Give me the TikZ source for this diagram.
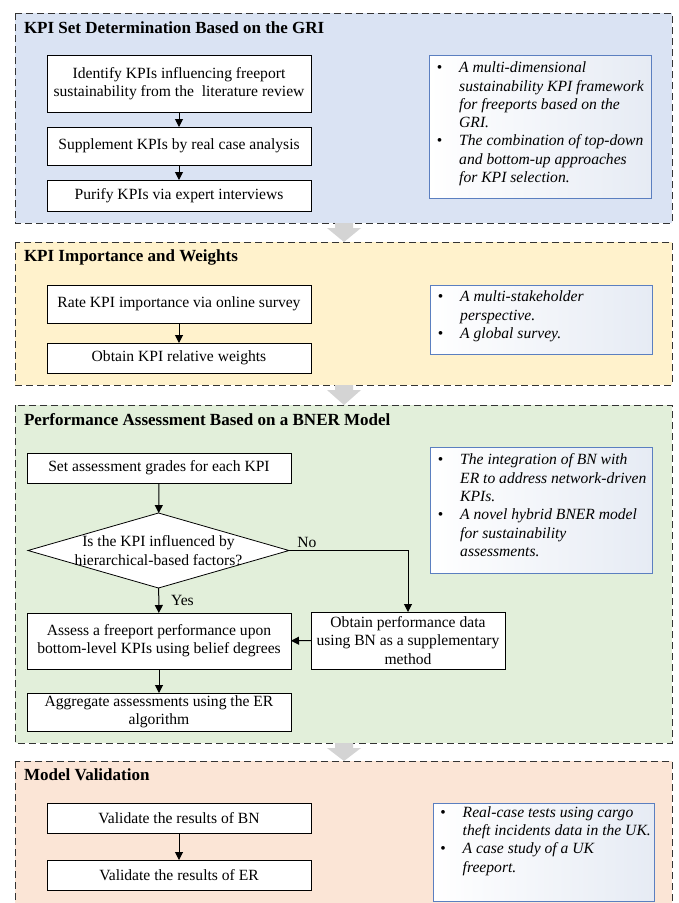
\documentclass[tikz,border=0pt]{standalone}
\usepackage{fontspec}
\setmainfont{Liberation Serif}
\usepackage{tikz}
\usetikzlibrary{positioning, shapes.geometric, arrows.meta}

\definecolor{griblue}{HTML}{DAE3F3}
\definecolor{weightyellow}{HTML}{FFF2CC}
\definecolor{bnergreen}{HTML}{E2EFDA}
\definecolor{validpeach}{HTML}{FBE5D6}
\definecolor{noteline}{HTML}{5B7FC0}
\definecolor{noteshade}{HTML}{E6EBF4}

\begin{document}
\begin{tikzpicture}[x=1pt, y=-1pt, outer sep=0pt,
    every node/.style={font=\fontsize{15.6}{18.3}\selectfont},
    panel/.style={draw=black!80, line width=0.9pt, dash pattern=on 7pt off 4pt},
    paneltitle/.style={anchor=west, inner sep=0pt, font=\fontsize{17}{20}\selectfont\bfseries},
    stage/.style={draw, fill=white, line width=0.8pt, align=center, inner sep=2pt, minimum width=264pt},
    decision/.style={draw, fill=white, diamond, line width=0.8pt, inner sep=0pt, minimum width=261pt, minimum height=75pt},
    note/.style={draw=noteline, line width=0.8pt, left color=white, right color=noteshade, inner sep=0pt},
    flow/.style={-{Triangle[length=8pt, width=8pt]}, line width=1pt},
    bigarrow/.style={fill=black!17}]

    \clip (0,0) rectangle (678,903);
    \fill[white] (0,0) rectangle (678,903);

    % panels
    \draw[panel, fill=griblue] (15,13) rectangle (672,223);
    \draw[panel, fill=weightyellow] (15,242) rectangle (672,385);
    \draw[panel, fill=bnergreen] (15,405) rectangle (672,743);
    \draw[panel, fill=validpeach] (15,761) rectangle (672,915);

    \foreach \top/\bot in {223/242, 385/405, 743/761}
        \fill[bigarrow] (335,\top) -- (353,\top) -- (353,{\top+5}) -- (361,{\top+5}) -- (344,\bot) -- (327,{\top+5}) -- (335,{\top+5}) -- cycle;

    \node[paneltitle] (grititle) at (24,28) {KPI Set Determination Based on the GRI};
    \node[paneltitle] (weighttitle) at (24,257) {KPI Importance and Weights};
    \node[paneltitle] (bnertitle) at (24,420) {Performance Assessment Based on a BNER Model};
    \node[paneltitle] (validtitle) at (24,775) {Model Validation};

    % KPI set
    \node[stage, minimum height=57pt] (identify) at (179,83.5) {Identify KPIs influencing freeport\\sustainability from the~ literature review};
    \node[stage, minimum height=38pt] (supplement) at (179,146) {Supplement KPIs by real case analysis};
    \node[stage, minimum height=31pt] (purify) at (179,195.5) {Purify KPIs via expert interviews};
    \draw[flow] (identify) -- (supplement);
    \draw[flow] (supplement) -- (purify);

    \node[note, minimum width=222pt, minimum height=143pt] (grinote) at (540,126.5) {%
        \begin{tabular}{@{\hspace{6pt}}l@{\hspace{17pt}}p{190pt}@{}}
        \textbullet & \textit{A multi-dimensional}\\
         & \textit{sustainability KPI framework}\\
         & \textit{for freeports based on the}\\
         & \textit{GRI.}\\
        \textbullet & \textit{The combination of top-down}\\
         & \textit{and bottom-up approaches}\\
         & \textit{for KPI selection.}\\[5pt]
        \end{tabular}};

    % importance and weights
    \node[stage, minimum height=38pt] (rate) at (179,304) {Rate KPI importance via online survey};
    \node[stage, minimum height=30pt] (weights) at (179,358) {Obtain KPI relative weights};
    \draw[flow] (rate) -- (weights);

    \node[note, minimum width=222pt, minimum height=69pt] (weightnote) at (541,319.5) {%
        \begin{tabular}{@{\hspace{6pt}}l@{\hspace{17pt}}p{190pt}@{}}
        \textbullet & \textit{A multi-stakeholder}\\
         & \textit{perspective.}\\
        \textbullet & \textit{A global survey.}\\[6pt]
        \end{tabular}};

    % BNER model
    \node[stage, minimum height=30pt] (grades) at (159,468) {Set assessment grades for each KPI};
    \node[decision, label={[align=center]center:Is the KPI influenced by\\hierarchical-based factors?}] (hierarchy) at (158.5,550.5) {};
    \node[stage, minimum height=56pt] (assess) at (159,641) {Assess a freeport performance upon\\bottom-level KPIs using belief degrees};
    \node[stage, minimum height=38pt] (aggregate) at (159,712) {Aggregate assessments using the ER\\algorithm};
    \node[stage, minimum width=194pt, minimum height=57pt] (bndata) at (408,640.5) {Obtain performance data\\using BN as a supplementary\\method};
    \draw[flow] (grades) -- (hierarchy);
    \draw[flow] (hierarchy) -- node[right=9pt] (yes) {Yes} (assess);
    \draw[flow] (hierarchy.east) -| node[above, pos=0.075] (no) {No} (bndata.north);
    \draw[flow] (bndata) -- (assess);
    \draw[flow] (assess) -- (aggregate);

    \node[note, minimum width=222pt, minimum height=126pt] (bnernote) at (541,510) {%
        \begin{tabular}{@{\hspace{6pt}}l@{\hspace{17pt}}p{190pt}@{}}
        \textbullet & \textit{The integration of BN with}\\
         & \textit{ER to address network-driven}\\
         & \textit{KPIs.}\\
        \textbullet & \textit{A novel hybrid BNER model}\\
         & \textit{for sustainability}\\
         & \textit{assessments.}\\[6pt]
        \end{tabular}};

    % validation
    \node[stage, minimum height=30pt] (validbn) at (179,818) {Validate the results of BN};
    \node[stage, minimum height=30pt] (valider) at (179,875) {Validate the results of ER};
    \draw[flow] (validbn) -- (valider);

    \node[note, minimum width=221pt, minimum height=98pt] (validnote) at (543.5,852) {%
        \begin{tabular}{@{\hspace{6pt}}l@{\hspace{17pt}}p{190pt}@{}}
        \textbullet & \textit{Real-case tests using cargo}\\
         & \textit{theft incidents data in the UK.}\\
        \textbullet & \textit{A case study of a UK}\\
         & \textit{freeport.}\\[22pt]
        \end{tabular}};
\end{tikzpicture}
\end{document}
